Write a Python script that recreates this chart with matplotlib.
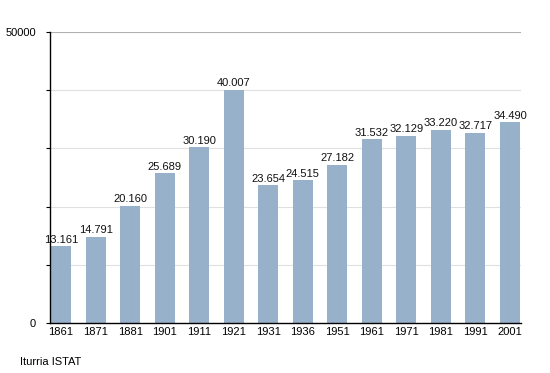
import matplotlib
matplotlib.use("Agg")
import matplotlib.pyplot as plt

years = ["1861", "1871", "1881", "1901", "1911", "1921", "1931",
         "1936", "1951", "1961", "1971", "1981", "1991", "2001"]
population = [13161, 14791, 20160, 25689, 30190, 40007, 23654,
              24515, 27182, 31532, 32129, 33220, 32717, 34490]

plt.rcParams['font.family'] = ['Liberation Sans', 'DejaVu Sans']

fig = plt.figure(figsize=(5.5, 3.73), dpi=100)
ax = fig.add_axes([50 / 550, 1 - 323 / 373, 471 / 550, 291 / 373])

x = list(range(len(years)))
ax.bar(x, population, width=0.58, color='#98b1cb', zorder=2)

for xi, v in zip(x, population):
    label = f"{v:,}".replace(",", ".")
    ax.text(xi, v + 300, label, ha='center', va='bottom', fontsize=8, color='#111111')

ax.set_xlim(-0.32, 13.32)
ax.set_ylim(0, 50000)
ax.set_xticks(x)
ax.set_xticklabels(years, fontsize=8)
ax.set_yticks([0, 10000, 20000, 30000, 40000, 50000])
ax.set_yticklabels(["0", "", "", "", "", "50000"], fontsize=8)
ax.tick_params(axis='x', length=0, pad=3)
ax.tick_params(axis='y', length=3, direction='out', pad=7)

for y in [10000, 20000, 30000, 40000]:
    ax.axhline(y, color='#e0e0e0', linewidth=0.8, zorder=1)
ax.axhline(50000, color='#b0b0b0', linewidth=0.8, zorder=1)

ax.spines['top'].set_visible(False)
ax.spines['right'].set_visible(False)
ax.spines['left'].set_linewidth(1)
ax.spines['bottom'].set_linewidth(1)

fig.text(20 / 550, 1 - 362 / 373, "Iturria ISTAT", fontsize=8, va='center')

fig.savefig("out.png", dpi=100)
